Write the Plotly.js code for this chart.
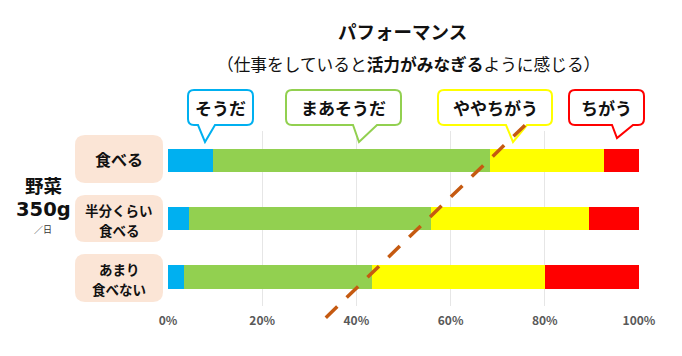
<!DOCTYPE html>
<html>
<head>
<meta charset="utf-8">
<script src="https://cdn.plot.ly/plotly-3.0.1.min.js"></script>
<style>html,body{margin:0;padding:0;background:#fff;}#chart{width:682px;height:356px;}</style>
</head>
<body>
<div id="chart"></div>
<script>
// ---- data ----
const categories = ['食べる', '半分くらい食べる', 'あまり食べない'];
const categoryLabelLines = [['食べる'], ['半分くらい', '食べる'], ['あまり', '食べない']];
const seriesNames = ['そうだ', 'まあそうだ', 'ややちがう', 'ちがう'];
const soudaVals = [9.6, 4.5, 3.3];
const maaSoudaVals = [58.7, 51.3, 40.0];
const yayaChigauVals = [24.3, 33.6, 36.7];
const chigauVals = [7.4, 10.6, 20.0];
const tickVals = [0, 20, 40, 60, 80, 100];
const tickText = ['0%', '20%', '40%', '60%', '80%', '100%'];
const trendX = [33.5, 75.8];      // percent
const trendY = [2.70, -0.60];     // category index units
const titleText = 'パフォーマンス';
const subtitleText = '（仕事をしていると<b>活力がみなぎる</b>ように感じる）';
const sideLabel = ['野菜', '350g', '／日'];

// ---- styles ----
const colors = ['#00B0F0', '#92D050', '#FFFF00', '#FF0000'];
const FONT = '"Noto Sans CJK JP", "Noto Sans", sans-serif';
const W = 682, H = 356, L = 168, R = 43, T = 131, B = 50;
const pw = W - L - R, ph = H - T - B;
const px = p => (p - L) / pw;
const py = p => (H - B - p) / ph;

const allVals = [soudaVals, maaSoudaVals, yayaChigauVals, chigauVals];
const traces = seriesNames.map((n, i) => ({
  type: 'bar', orientation: 'h', name: n,
  y: categories, x: allVals[i],
  marker: {color: colors[i], line: {width: 0}},
  hoverinfo: 'x+name'
}));

function rr(x0, y0, x1, y1, r, tail) {
  const X = v => px(v).toFixed(5), Y = v => py(v).toFixed(5);
  let s = `M${X(x0 + r)},${Y(y0)} L${X(x1 - r)},${Y(y0)} Q${X(x1)},${Y(y0)} ${X(x1)},${Y(y0 + r)} `;
  s += `L${X(x1)},${Y(y1 - r)} Q${X(x1)},${Y(y1)} ${X(x1 - r)},${Y(y1)} `;
  if (tail) {
    s += `L${X(tail[1])},${Y(y1)} L${X(tail[2])},${Y(tail[3])} L${X(tail[0])},${Y(y1)} `;
  }
  s += `L${X(x0 + r)},${Y(y1)} Q${X(x0)},${Y(y1)} ${X(x0)},${Y(y1 - r)} `;
  s += `L${X(x0)},${Y(y0 + r)} Q${X(x0)},${Y(y0)} ${X(x0 + r)},${Y(y0)} Z`;
  return s;
}

const shapes = [];
const annotations = [];
function addText(xp, yp, text, size, opts) {
  opts = opts || {};
  annotations.push({xref: 'paper', yref: 'paper', x: px(xp), y: py(yp), text: text,
    showarrow: false, xanchor: 'center', yanchor: 'middle',
    font: {family: opts.family || FONT, size: size, color: opts.color || '#111'}});
}

// category label boxes
const catBoxes = [[135, 183], [195, 242], [254, 302]];
const catLineY = [[159], [210.3, 229.9], [269.3, 288.9]];
catBoxes.forEach((b, i) => {
  shapes.push({type: 'path', xref: 'paper', yref: 'paper', path: rr(75, b[0], 163, b[1], 10),
    fillcolor: '#FBE5D6', line: {width: 0}, layer: 'below'});
  categoryLabelLines[i].forEach((t, j) => {
    addText(119, catLineY[i][j], '<b>' + t + '</b>', i === 0 ? 16 : 13.5);
  });
});

// callout bubbles
const bubbles = [
  {x0: 188, x1: 253, tail: [198, 215, 205, 142]},
  {x0: 286, x1: 401, tail: [353, 377, 359, 142]},
  {x0: 438, x1: 552, tail: [506, 527, 513, 142]},
  {x0: 569, x1: 644, tail: [612, 633, 617, 138]}
];
bubbles.forEach((b, i) => {
  shapes.push({type: 'path', xref: 'paper', yref: 'paper', path: rr(b.x0, 90, b.x1, 125, 6, b.tail),
    fillcolor: '#FFFFFF', line: {color: colors[i], width: 2}});
  addText((b.x0 + b.x1) / 2, 107.5, '<b>' + seriesNames[i] + '</b>', 17);
});

// dashed trend line
shapes.push({type: 'line', xref: 'x', yref: 'paper',
  x0: trendX[0], x1: trendX[1],
  y0: (2.5 - trendY[0]) / 3, y1: (2.5 - trendY[1]) / 3,
  line: {color: '#C55A11', width: 3.5, dash: '16px,13px'}});

// titles
addText(402, 31, '<b>' + titleText + '</b>', 18.5);
addText(408, 64, subtitleText, 16.7);

// side label
addText(43, 185, '<b>' + sideLabel[0] + '</b>', 18.5);
addText(43, 209.5, '<b>' + sideLabel[1] + '</b>', 19.5, {family: '"DejaVu Sans", sans-serif'});
addText(43, 229.5, sideLabel[2], 9, {color: '#333'});

const layout = {
  width: W, height: H,
  margin: {l: L, r: R, t: T, b: B, pad: 0},
  paper_bgcolor: '#FFFFFF', plot_bgcolor: '#FFFFFF',
  barmode: 'stack', bargap: 0.6,
  showlegend: false,
  font: {family: FONT},
  xaxis: {range: [0, 100], tickvals: tickVals, ticktext: tickText, showgrid: true,
    gridcolor: '#E6E6E6', gridwidth: 1, zeroline: false, showline: false, ticks: '',
    ticklabelstandoff: 6,
    tickfont: {family: FONT, size: 12, color: '#595959', weight: 'bold'}, fixedrange: true},
  yaxis: {type: 'category', categoryorder: 'array', categoryarray: categories, autorange: 'reversed',
    showticklabels: false, showgrid: false, zeroline: false, showline: false, ticks: '', fixedrange: true},
  shapes: shapes,
  annotations: annotations
};

Plotly.newPlot('chart', traces, layout, {displayModeBar: false, staticPlot: true});
</script>
</body>
</html>
